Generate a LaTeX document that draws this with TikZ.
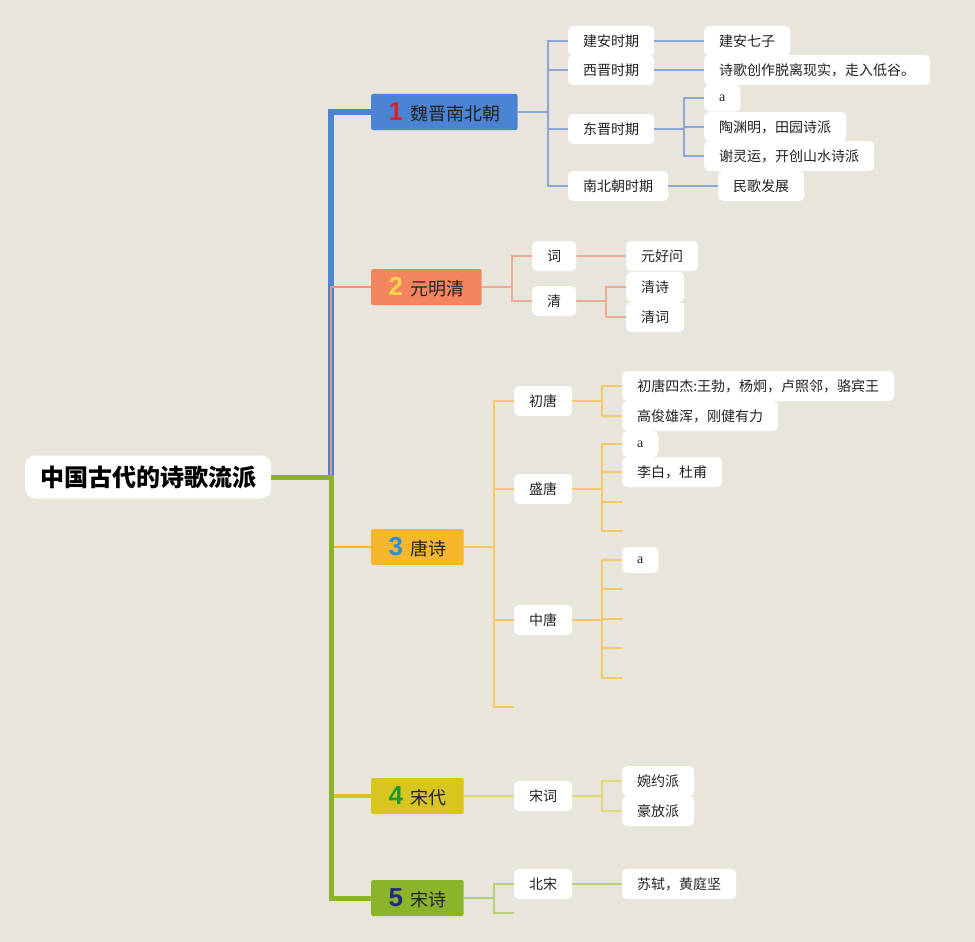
\documentclass[tikz,border=0pt]{standalone}
\usepackage{fontspec}
\setmainfont{Noto Sans CJK SC}
\newfontfamily\numfont{Liberation Sans}
\newfontfamily\serifa{Liberation Serif}
\definecolor{bg}{HTML}{E8E5DD}
\definecolor{c1}{HTML}{4A84D3}
\definecolor{c2}{HTML}{F3865E}
\definecolor{c3}{HTML}{F4B72D}
\definecolor{c4}{HTML}{D8C520}
\definecolor{c5}{HTML}{8CB42B}
\definecolor{l1}{HTML}{8AA7D6}
\definecolor{l2}{HTML}{F0AC92}
\definecolor{l3}{HTML}{F6C968}
\definecolor{l4}{HTML}{E3D67A}
\definecolor{l5}{HTML}{B9CF7B}
\definecolor{t2}{HTML}{E9957A}
\definecolor{n1c}{HTML}{D8232F}
\definecolor{n2c}{HTML}{F7D64A}
\definecolor{n3c}{HTML}{2A8FD8}
\definecolor{n4c}{HTML}{1E9A2A}
\definecolor{n5c}{HTML}{1E2B7E}
\definecolor{txt}{HTML}{222222}
\newcommand{\numtxt}[2]{{\numfont\bfseries\fontsize{26}{26}\selectfont\textcolor{#1}{#2}}\hspace{7pt}}
\begin{document}
\begin{tikzpicture}[x=1pt,y=-1pt,
  leaf/.style={fill=white, rounded corners=5pt, minimum height=30pt, inner xsep=15pt, inner ysep=0pt,
    font=\fontsize{14}{14}\selectfont, anchor=west, text=txt},
  aleaf/.style={leaf, minimum height=27pt, font=\serifa\fontsize{14}{14}\selectfont},
  branch/.style={rounded corners=2pt, minimum height=36pt, inner xsep=17.5pt, inner ysep=0pt,
    font=\fontsize{18}{18}\selectfont, anchor=west, text=txt},
  rootbox/.style={fill=white, rounded corners=10pt, minimum height=43pt, inner xsep=15pt, inner ysep=0pt,
    font=\bfseries\fontsize{24}{24}\selectfont, anchor=west, text=black},
  w1/.style={draw=l1, line width=1.6pt},
  w2/.style={draw=l2, line width=1.6pt},
  w3/.style={draw=l3, line width=1.6pt},
  w4/.style={draw=l4, line width=1.6pt},
  w5/.style={draw=l5, line width=1.6pt}]
\useasboundingbox[fill=bg] (0,0) rectangle (975,942);

% ---------- nodes ----------
\node[rootbox] (root) at (25,477) {中国古代的诗歌流派};

\node[branch, fill=c1] (n1) at (371,112) {\numtxt{n1c}{1}魏晋南北朝};
\node[branch, fill=c2] (n2) at (371,287) {\numtxt{n2c}{2}元明清};
\node[branch, fill=c3] (n3) at (371,547) {\numtxt{n3c}{3}唐诗};
\node[branch, fill=c4] (n4) at (371,796) {\numtxt{n4c}{4}宋代};
\node[branch, fill=c5] (n5) at (371,898) {\numtxt{n5c}{5}宋诗};

% branch 1
\node[leaf] (c11) at (568,41) {建安时期};
\node[leaf] (c12) at (568,70) {西晋时期};
\node[leaf] (c13) at (568,129) {东晋时期};
\node[leaf] (c14) at (568,186) {南北朝时期};
\node[leaf] (l111) at (704,41) {建安七子};
\node[leaf, minimum width=226pt] (l121) at (704,70) {诗歌创作脱离现实，走入低谷。};
\node[aleaf] (l131) at (704,98) {a};
\node[leaf] (l132) at (704,127) {陶渊明，田园诗派};
\node[leaf] (l133) at (704,156) {谢灵运，开创山水诗派};
\node[leaf] (l141) at (718,186) {民歌发展};

% branch 2
\node[leaf] (c21) at (532,256) {词};
\node[leaf] (c22) at (532,301) {清};
\node[leaf] (l211) at (626,256) {元好问};
\node[leaf] (l221) at (626,287) {清诗};
\node[leaf] (l222) at (626,317) {清词};

% branch 3
\node[leaf] (c31) at (514,401) {初唐};
\node[leaf] (c32) at (514,489) {盛唐};
\node[leaf] (c33) at (514,620) {中唐};
\coordinate (e34) at (514,707);
\node[leaf, minimum width=272pt] (l311) at (622,386) {初唐四杰:王勃，杨炯，卢照邻，骆宾王};
\node[leaf] (l312) at (622,416) {高俊雄浑，刚健有力};
\node[aleaf, minimum height=26pt] (l321) at (622,444) {a};
\node[leaf] (l322) at (622,472) {李白，杜甫};
\coordinate (e323) at (622,502);
\coordinate (e324) at (622,531);
\node[aleaf, minimum height=26pt] (l331) at (622,560) {a};
\coordinate (e332) at (622,589);
\coordinate (e333) at (622,619);
\coordinate (e334) at (622,648);
\coordinate (e335) at (622,678);

% branch 4
\node[leaf] (c41) at (514,796) {宋词};
\node[leaf] (l411) at (622,781) {婉约派};
\node[leaf] (l412) at (622,811) {豪放派};

% branch 5
\node[leaf] (c51) at (514,884) {北宋};
\coordinate (e52) at (514,913);
\node[leaf] (l511) at (622,884) {苏轼，黄庭坚};

% ---------- trunk ----------
\coordinate (tr) at (331,477);
\begin{scope}[on background layer/.style={}]
\end{scope}
\draw[c1, line width=5.5pt] (tr) |- (n1.west);
\draw[t2, line width=2.8pt] (tr) |- (n2.west);
\draw[c3, line width=2pt] (tr) |- (n3.west);
\draw[c4, line width=4pt] (tr) |- (n4.west);
\draw[c5, line width=5pt] (root.east) -- (tr) |- (n5.west);

% ---------- branch 1 connectors ----------
\coordinate (j1) at (548,112);
\draw[w1, line width=2pt] (n1.east) -- (j1);
\foreach \c in {c11,c12,c13,c14} \draw[w1] (j1) |- (\c.west);
\draw[w1] (c11.east) -- (l111.west);
\draw[w1] (c12.east) -- (l121.west);
\coordinate (j13) at (684,129);
\draw[w1, line width=2pt] (c13.east) -- (j13);
\foreach \c in {l131,l132,l133} \draw[w1] (j13) |- (\c.west);
\draw[w1] (c14.east) -- (l141.west);

% ---------- branch 2 connectors ----------
\coordinate (j2) at (512,287);
\draw[w2, line width=2pt] (n2.east) -- (j2);
\foreach \c in {c21,c22} \draw[w2] (j2) |- (\c.west);
\draw[w2] (c21.east) -- (l211.west);
\coordinate (j22) at (606,301);
\draw[w2, line width=2pt] (c22.east) -- (j22);
\foreach \c in {l221,l222} \draw[w2] (j22) |- (\c.west);

% ---------- branch 3 connectors ----------
\coordinate (j3) at (494,547);
\draw[w3, line width=2pt] (n3.east) -- (j3);
\foreach \c in {c31,c32,c33} \draw[w3] (j3) |- (\c.west);
\draw[w3] (j3) |- (e34);
\coordinate (j31) at (602,401);
\draw[w3, line width=2pt] (c31.east) -- (j31);
\foreach \c in {l311,l312} \draw[w3] (j31) |- (\c.west);
\coordinate (j32) at (602,489);
\draw[w3, line width=2pt] (c32.east) -- (j32);
\foreach \c in {l321,l322} \draw[w3] (j32) |- (\c.west);
\foreach \c in {e323,e324} \draw[w3] (j32) |- (\c);
\coordinate (j33) at (602,620);
\draw[w3, line width=2pt] (c33.east) -- (j33);
\draw[w3] (j33) |- (l331.west);
\foreach \c in {e332,e333,e334,e335} \draw[w3] (j33) |- (\c);

% ---------- branch 4 connectors ----------
\draw[w4, line width=2pt] (n4.east) -- (c41.west);
\coordinate (j41) at (602,796);
\draw[w4, line width=2pt] (c41.east) -- (j41);
\foreach \c in {l411,l412} \draw[w4] (j41) |- (\c.west);

% ---------- branch 5 connectors ----------
\coordinate (j5) at (494,898);
\draw[w5, line width=2pt] (n5.east) -- (j5);
\draw[w5] (j5) |- (c51.west);
\draw[w5] (j5) |- (e52);
\draw[w5] (c51.east) -- (l511.west);
\end{tikzpicture}
\end{document}
